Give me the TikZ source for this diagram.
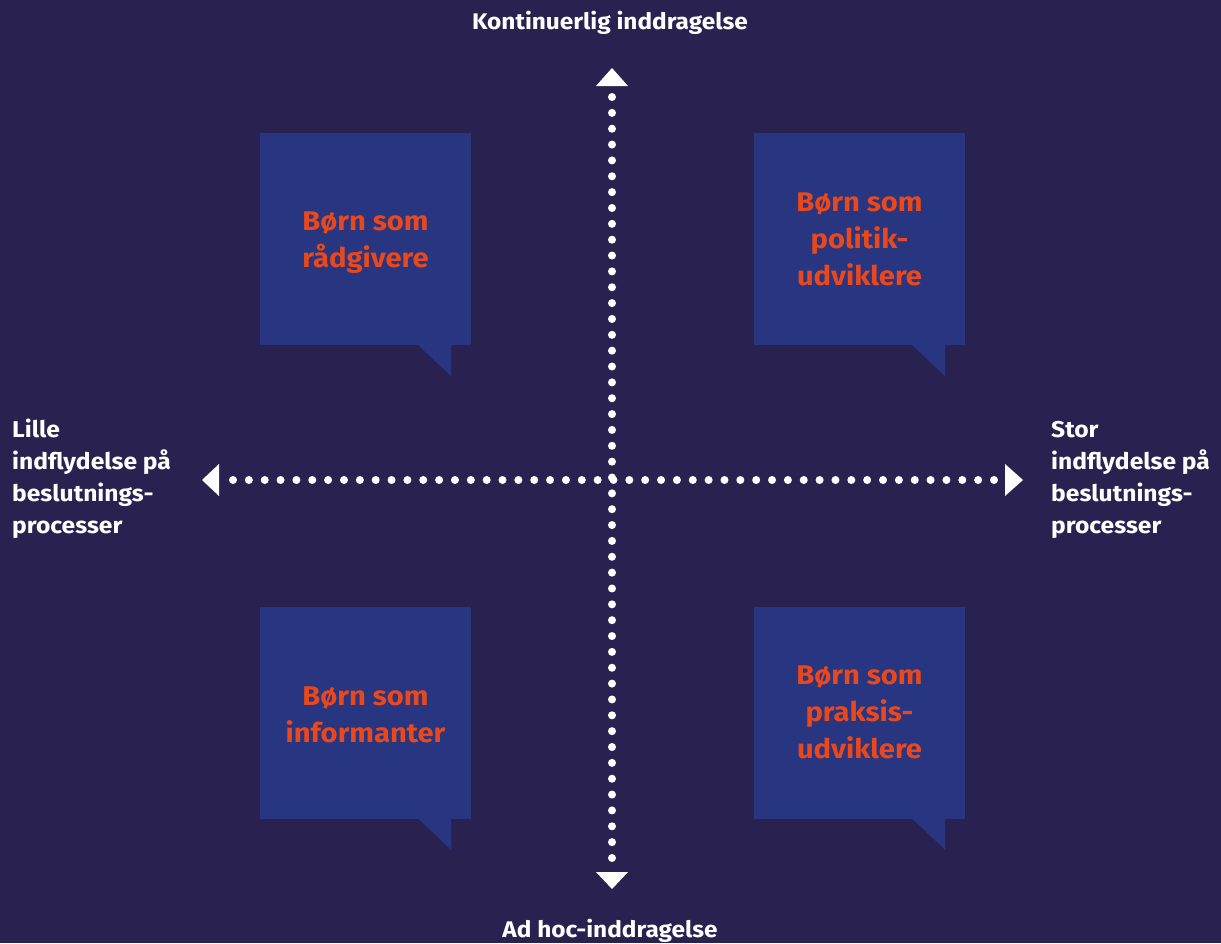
\documentclass[tikz,border=0pt]{standalone}
\usepackage{fontspec}
\setmainfont{Fira Sans}[FakeStretch=1.08]
\definecolor{bg}{RGB}{41,34,80}
\definecolor{boxblue}{RGB}{40,53,128}
\definecolor{orng}{RGB}{232,72,28}
\tikzset{
  bubble/.style={fill=boxblue, minimum width=211pt, minimum height=212pt, inner sep=0pt},
  bubbletext/.style={text=orng, inner sep=0pt, align=center, font=\fontsize{27}{37}\selectfont\bfseries},
  tail/.style={fill=boxblue},
  dotline/.style={white, line width=8pt, line cap=round, dash pattern=on 0pt off 15.854pt},
  tip/.style={fill=white},
  axislabel/.style={text=white, inner sep=0pt, font=\fontsize{22.6}{32}\selectfont\bfseries},
  sidelabel/.style={text=white, inner sep=0pt, align=left, font=\fontsize{22.8}{32}\selectfont\bfseries}
}
\begin{document}
\begin{tikzpicture}[x=1pt,y=-1pt]
\fill[bg] (0,0) rectangle (1221,943);
\useasboundingbox (0,0) rectangle (1221,943);

% bubbles
\node[bubble] (tl) at (365.5,239) {};
\node[bubble] (tr) at (859.5,239) {};
\node[bubble] (bl) at (365.5,712.5) {};
\node[bubble] (br) at (859.5,712.5) {};
\foreach \b in {tl,tr,bl,br}{
  \fill[tail] ([xshift=-53pt]\b.south east) -- ([xshift=-20pt]\b.south east)
     -- ([xshift=-20pt,yshift=-31pt]\b.south east) -- cycle;
}
\node[bubbletext] (tltext) at ([yshift=-4pt]tl.center) {Børn som\\rådgivere};
\node[bubbletext] (trtext) at (tr.center) {Børn som\\politik-\\udviklere};
\node[bubbletext] (bltext) at ([yshift=-2pt]bl.center) {Børn som\\informanter};
\node[bubbletext] (brtext) at (br.center) {Børn som\\praksis-\\udviklere};

% axes
\coordinate (vtop) at (612,97);
\coordinate (vbot) at (612,858);
\coordinate (hleft) at (233,480);
\coordinate (hright) at (994,480);
\draw[dotline] (vtop) -- (vbot);
\draw[dotline] (hleft) -- (hright);
\fill[tip] ([xshift=-16pt,yshift=11pt]vtop) -- ([xshift=16pt,yshift=11pt]vtop) -- ([yshift=29pt]vtop) -- cycle;
\fill[tip] ([xshift=-16pt,yshift=-14pt]vbot) -- ([xshift=16pt,yshift=-14pt]vbot) -- ([yshift=-31pt]vbot) -- cycle;
\fill[tip] ([xshift=-14pt,yshift=-16pt]hleft) -- ([xshift=-14pt,yshift=16pt]hleft) -- ([xshift=-31pt]hleft) -- cycle;
\fill[tip] ([xshift=11pt,yshift=-16pt]hright) -- ([xshift=11pt,yshift=16pt]hright) -- ([xshift=29pt]hright) -- cycle;

% labels
\node[axislabel, anchor=base] (top) at (610,29) {Kontinuerlig inddragelse};
\node[axislabel, anchor=base] (bottom) at (610,937) {Ad hoc-inddragelse};
\node[sidelabel, anchor=base west] (left) at (12,533) {Lille\\indflydelse på\\beslutnings-\\processer};
\node[sidelabel, anchor=base west] (right) at (1051,533) {Stor\\indflydelse på\\beslutnings-\\processer};
\end{tikzpicture}
\end{document}
